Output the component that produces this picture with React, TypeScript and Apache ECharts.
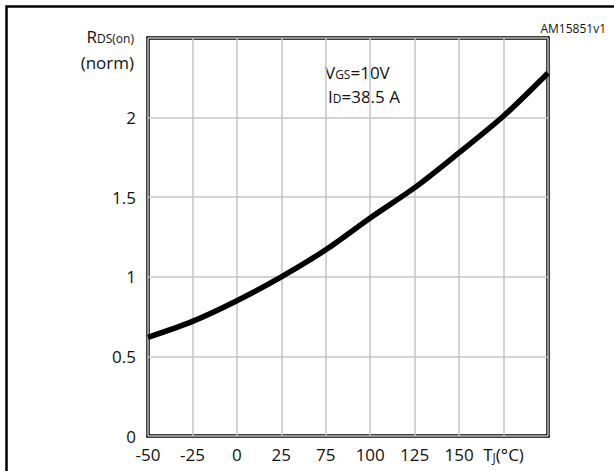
import React, { useEffect, useRef } from "react";
import * as echarts from "echarts";

// Junction temperature grid positions (°C) and normalized RDS(on)
const tempValues = [-50, -25, 0, 25, 50, 75, 100, 125, 150, 175];
const rdsValues = [0.62, 0.72, 0.85, 1.0, 1.17, 1.37, 1.56, 1.78, 2.01, 2.28];
// tick labels as printed on the reference (note: "50" is printed as "75" etc.)
const xTickLabels = ["-50", "-25", "0", "25", "75", "100", "125", "150", "TJ", ""];
const yTickValues = [0, 0.5, 1, 1.5, 2];

const FONT = "'Open Sans', 'Noto Sans', sans-serif";

export default function App() {
  const ref = useRef<HTMLDivElement>(null);
  useEffect(() => {
    document.body.style.margin = "0";
    const chart = echarts.init(ref.current!, null, { renderer: "svg" });
    const data = tempValues.map((t, i) => [t, rdsValues[i]]);
    chart.setOption({
      animation: false,
      backgroundColor: "#ffffff",
      grid: {
        left: 148,
        top: 38,
        width: 400,
        height: 398,
        show: true,
        borderColor: "#000",
        borderWidth: 3.5,
        backgroundColor: "transparent",
      },
      xAxis: {
        type: "value",
        min: -50,
        max: 175,
        interval: 25,
        axisLine: { show: false },
        axisTick: { show: false },
        splitLine: { show: true, lineStyle: { color: "#c4c4c4", width: 1.5 } },
        axisLabel: {
          margin: 10,
          fontFamily: FONT,
          fontSize: 17,
          color: "#111",
          showMaxLabel: true,
          showMinLabel: true,
          formatter: (v: number) => {
            const idx = Math.round((v + 50) / 25);
            const lab = xTickLabels[idx] ?? "";
            if (lab === "TJ") return "{n|T}{s|J}{n|(°C)}";
            return lab;
          },
          rich: {
            n: { fontFamily: FONT, fontSize: 17, color: "#111" },
            s: { fontFamily: FONT, fontSize: 12, color: "#111", verticalAlign: "bottom", padding: [4, 0, 0, 0] },
          },
        },
      },
      yAxis: {
        type: "value",
        min: 0,
        max: 2.5,
        interval: 0.5,
        axisLine: { show: false },
        axisTick: { show: false },
        splitLine: { show: true, lineStyle: { color: "#c4c4c4", width: 1.5 } },
        axisLabel: {
          margin: 12,
          fontFamily: FONT,
          fontSize: 17,
          color: "#111",
          formatter: (v: number) => (yTickValues.includes(v) ? String(v) : ""),
        },
      },
      series: [
        {
          type: "line",
          data,
          smooth: 0.3,
          symbol: "none",
          clip: true,
          lineStyle: { color: "#000", width: 5.5 },
        },
      ],
      graphic: [
        {
          type: "rect",
          shape: { x: 6.5, y: 6.5, width: 700, height: 600 },
          style: { fill: "none", stroke: "#000", lineWidth: 2.5 },
          silent: true,
        },
        {
          type: "text",
          x: 606,
          y: 28,
          style: {
            text: "AM15851v1",
            fontFamily: FONT,
            fontSize: 12,
            fill: "#111",
            align: "right",
            verticalAlign: "middle",
          },
        },
        {
          type: "text",
          x: 134,
          y: 36,
          style: {
            text: "{n|R}{s|DS(on)}",
            align: "right",
            verticalAlign: "middle",
            rich: {
              n: { fontFamily: FONT, fontSize: 17, fill: "#111" },
              s: { fontFamily: FONT, fontSize: 12, fill: "#111", padding: [4, 0, 0, 0] },
            },
          },
        },
        {
          type: "text",
          x: 134,
          y: 62,
          style: {
            text: "(norm)",
            fontFamily: FONT,
            fontSize: 17,
            fill: "#111",
            align: "right",
            verticalAlign: "middle",
          },
        },
        {
          type: "text",
          x: 325,
          y: 72,
          style: {
            text: "{n|V}{s|GS}{n|=10V}",
            align: "left",
            verticalAlign: "middle",
            rich: {
              n: { fontFamily: FONT, fontSize: 17, fill: "#111" },
              s: { fontFamily: FONT, fontSize: 12, fill: "#111", padding: [4, 0, 0, 0] },
            },
          },
        },
        {
          type: "text",
          x: 328,
          y: 96,
          style: {
            text: "{n|I}{s|D}{n|=38.5 A}",
            align: "left",
            verticalAlign: "middle",
            rich: {
              n: { fontFamily: FONT, fontSize: 17, fill: "#111" },
              s: { fontFamily: FONT, fontSize: 12, fill: "#111", padding: [4, 0, 0, 0] },
            },
          },
        },
      ],
    });
    return () => chart.dispose();
  }, []);
  return <div ref={ref} style={{ width: 614, height: 471 }} />;
}
